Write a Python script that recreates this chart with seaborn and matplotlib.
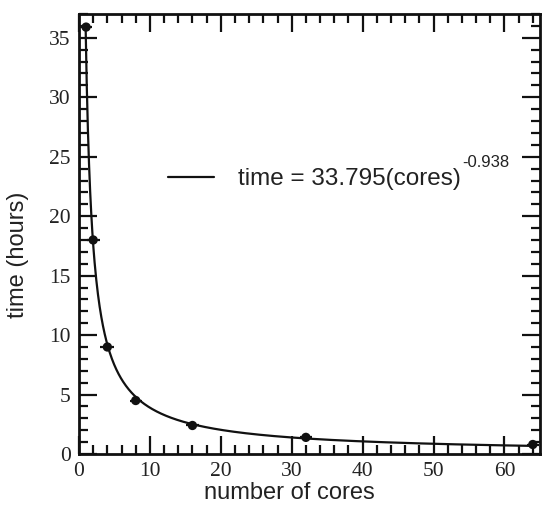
import numpy as np
import pandas as pd
import matplotlib
matplotlib.use("Agg")
import matplotlib.pyplot as plt
from matplotlib.ticker import MultipleLocator
import seaborn as sns

# Measured run times
cores = [1, 2, 4, 8, 16, 32, 64]
hours = [35.9, 18.0, 9.0, 4.5, 2.4, 1.4, 0.8]
cores_err = [0.9, 0.9, 1.0, 0.85, 0.95, 0.9, 0.85]

# Power-law fit: time = a * cores^b
fit_a = 33.795
fit_b = -0.938

sns.set_theme(style="ticks")
plt.rcParams["font.family"] = ["Liberation Sans", "DejaVu Sans"]

fig = plt.figure(figsize=(5.47, 5.15), dpi=100)
ax = fig.add_axes([0.1444, 0.1184, 0.8426, 0.8544])

x_fit = np.linspace(0.94, 64, 800)
fit_df = pd.DataFrame({"cores": x_fit, "time": fit_a * x_fit ** fit_b})
pts_df = pd.DataFrame({"cores": cores, "time": hours})

sns.lineplot(data=fit_df, x="cores", y="time", ax=ax, color="#111111", linewidth=1.6,
             label=f"time = {fit_a:.3f}(cores)")
ax.errorbar(cores, hours, xerr=cores_err, fmt="none", ecolor="#111111",
            elinewidth=1.6, capsize=0)
sns.scatterplot(data=pts_df, x="cores", y="time", ax=ax, color="#111111",
                s=45, edgecolor="none", zorder=5)

ax.set_xlim(0, 65)
ax.set_ylim(0, 37)
ax.xaxis.set_major_locator(MultipleLocator(10))
ax.xaxis.set_minor_locator(MultipleLocator(2))
ax.yaxis.set_major_locator(MultipleLocator(5))
ax.yaxis.set_minor_locator(MultipleLocator(1))

for s in ax.spines.values():
    s.set_visible(True)
    s.set_linewidth(2.0)
    s.set_color("#111111")

ax.tick_params(which="both", direction="in", top=True, right=True,
               color="#111111", width=1.6)
ax.tick_params(which="major", length=13, pad=6)
ax.tick_params(which="minor", length=6.5)

for lab in ax.get_xticklabels() + ax.get_yticklabels():
    lab.set_family(["Liberation Serif", "DejaVu Serif"])
    lab.set_fontsize(15.5)
    lab.set_color("#222222")

ax.set_xlabel("number of cores", fontsize=17, color="#222222")
ax.set_ylabel("time (hours)", fontsize=17, color="#222222")
ax.xaxis.set_label_coords(0.4555, -0.064)
ax.yaxis.set_label_coords(-0.108, 0.452)

leg = ax.legend(loc="center left", bbox_to_anchor=(0.193, 0.625), frameon=False,
                fontsize=17.5, handlelength=1.9, handletextpad=1.0,
                borderpad=0, borderaxespad=0)
leg_text = leg.get_texts()[0]
leg_text.set_color("#222222")

# exponent written as a raised label right after the legend entry;
# drawn above the legend so the entry is already placed
ax.annotate(f"{fit_b:.3f}", xy=(1, 1), xycoords=leg_text,
            xytext=(0.5, 4), textcoords="offset points",
            ha="left", va="center", fontsize=12, color="#222222", zorder=10)

fig.savefig("out.png", dpi=100)
